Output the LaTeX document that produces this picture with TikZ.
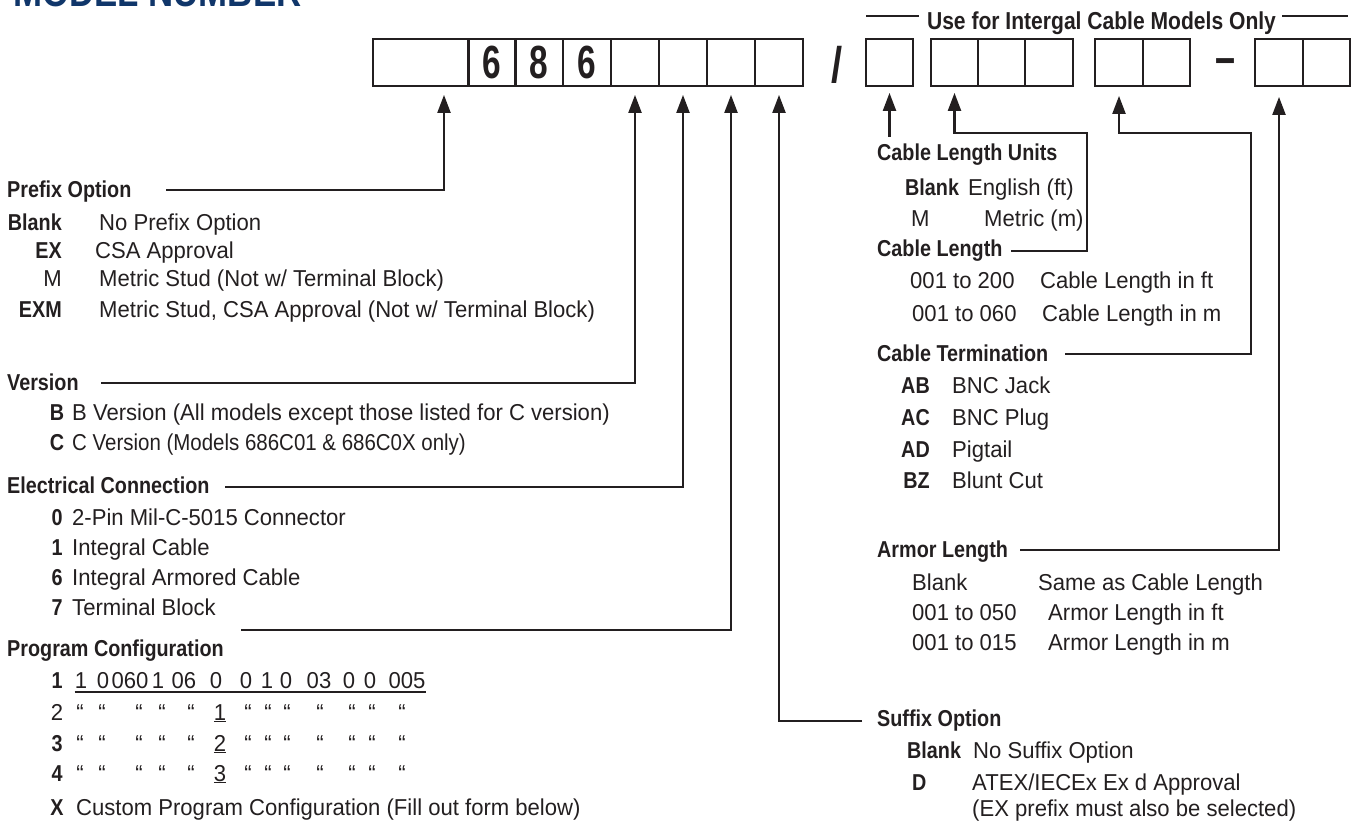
\documentclass[tikz,border=0pt]{standalone}
\usepackage{fontspec}
\setmainfont{Liberation Sans}
\newfontfamily\regf{Liberation Sans}[FakeStretch=0.96]
\newfontfamily\regn{Liberation Sans}[FakeStretch=0.89]
\newfontfamily\bldf{Liberation Sans Bold}[FakeStretch=0.86]
\newfontfamily\digf{Liberation Sans Bold}[FakeStretch=0.72]
\newfontfamily\slaf{Liberation Sans Bold}[FakeStretch=0.8]
\usetikzlibrary{arrows.meta,calc}
\definecolor{ink}{HTML}{231F20}
\definecolor{navy}{HTML}{10366A}
\tikzset{
  txt/.style={anchor=base west,inner sep=0pt,text=ink,font=\regf\fontsize{23}{27}\selectfont},
  txtb/.style={txt,font=\bldf\fontsize{23}{27}\selectfont},
  txtbr/.style={txtb,anchor=base east},
  txtr/.style={txt,anchor=base east},
  txtbc/.style={txtb,anchor=base},
  txtc/.style={txt,anchor=base},
  cell/.style={draw=ink,line width=1.8pt,minimum width=47.5pt,minimum height=47pt,inner sep=0pt,text=ink,font=\digf\fontsize{46.5}{50}\selectfont},
  conn/.style={draw=ink,line width=2.2pt,-{Triangle[length=18pt,width=13pt]}},
  rulel/.style={draw=ink,line width=1.5pt},
  ul/.style={draw=ink,line width=1.2pt},
}
\begin{document}
\begin{tikzpicture}[x=1pt,y=-1pt]
\useasboundingbox (0,0) rectangle (1357,823);
% title
\node[anchor=base west,inner sep=0pt,text=navy,font=\bldf\fontsize{40.5}{43}\selectfont] (title) at (13,6) {MODEL NUMBER};
% cells
\node[cell,minimum width=96pt] (b0) at (421,62.5) {};
\node[cell] (b1) at (492,62.5) {6};
\node[cell] (b2) at (539,62.5) {8};
\node[cell] (b3) at (587,62.5) {6};
\node[cell] (b4) at (635,62.5) {};
\node[cell] (b5) at (683,62.5) {};
\node[cell] (b6) at (731,62.5) {};
\node[cell] (b7) at (779,62.5) {};
\node[inner sep=0pt,text=ink,font=\slaf\fontsize{50}{53}\selectfont] (slash) at (837,65) {/};
\node[cell] (c0) at (889.5,62.5) {};
\node[cell] (d1) at (954.5,62.5) {};
\node[cell] (d2) at (1001.5,62.5) {};
\node[cell] (d3) at (1049,62.5) {};
\node[cell] (e1) at (1119,62.5) {};
\node[cell] (e2) at (1166.5,62.5) {};
\node[inner sep=0pt,text=ink,font=\digf\fontsize{50}{53}\selectfont] (dash) at (1225,67) {–};
\node[cell] (f1) at (1279,62.5) {};
\node[cell] (f2) at (1326.5,62.5) {};
% top heading
\node[txtbc,font=\bldf\fontsize{24.5}{28}\selectfont] (use) at (1101.5,29) {Use for Intergal Cable Models Only};
\draw[rulel] (866,16) -- (919,16);
\draw[rulel] (1282,16) -- (1348,16);
% ---- left column
\node[txtb] (hpre) at (7,197) {Prefix Option};
\node[txtbr] (kpre1) at (62,230) {Blank};
\node[txt] (dpre1) at (99,230) {No Prefix Option};
\node[txtbr] (kpre2) at (62,258) {EX};
\node[txt] (dpre2) at (95,258) {CSA Approval};
\node[txtr] (kpre3) at (62,286) {M};
\node[txt] (dpre3) at (99,286) {Metric Stud (Not w/ Terminal Block)};
\node[txtbr] (kpre4) at (62,317) {EXM};
\node[txt] (dpre4) at (99,317) {Metric Stud, CSA Approval (Not w/ Terminal Block)};

\node[txtb] (hver) at (7,390) {Version};
\node[txtbc] (kver1) at (57,420) {B};
\node[txt] (dver1) at (72,420) {B Version (All models except those listed for C version)};
\node[txtbc] (kver2) at (57,450) {C};
\node[txt,font=\regn\fontsize{23}{27}\selectfont] (dver2) at (72,450) {C Version (Models 686C01 \& 686C0X only)};

\node[txtb] (hele) at (7,493) {Electrical Connection};
\node[txtbc] (kele1) at (57,525) {0};
\node[txt] (dele1) at (72,525) {2-Pin Mil-C-5015 Connector};
\node[txtbc] (kele2) at (57,555) {1};
\node[txt] (dele2) at (72,555) {Integral Cable};
\node[txtbc] (kele3) at (57,585) {6};
\node[txt] (dele3) at (72,585) {Integral Armored Cable};
\node[txtbc] (kele4) at (57,615) {7};
\node[txt] (dele4) at (72,615) {Terminal Block};

\node[txtb] (hpc) at (7,656) {Program Configuration};
\node[txtbc] (kpc1) at (57,688) {1};
\node[txtc] (r1a) at (81,688) {1};
\node[txtc] (r1b) at (103,688) {0};
\node[txtc] (r1c) at (130,688) {060};
\node[txtc] (r1d) at (158,688) {1};
\node[txtc] (r1e) at (184,688) {06};
\node[txtc] (r1f) at (216,688) {0};
\node[txtc] (r1g) at (246,688) {0};
\node[txtc] (r1h) at (267,688) {1};
\node[txtc] (r1i) at (286,688) {0};
\node[txtc] (r1j) at (319,688) {03};
\node[txtc] (r1k) at (349,688) {0};
\node[txtc] (r1l) at (370,688) {0};
\node[txtc] (r1m) at (407,688) {005};
\draw[ul] ([yshift=-4pt]r1a.base west) -- ([yshift=-4pt]r1m.base east);
\foreach \r/\y/\d/\k in {2/720/1/txtc,3/751/2/txtbc,4/781/3/txtbc}{
  \node[\k] (kpc\r) at (57,\y) {\r};
  \foreach \xx [count=\i] in {80,102,139,162,191,248,268,287,320,352,372,402}{
    \node[txtc] (q\r-\i) at (\xx,\y) {“};
  }
  \node[txtc] (u\r) at (220,\y) {\underline{\d}};
}
\node[txtbc] (kpcx) at (57,815) {X};
\node[txt] (dpcx) at (76,815) {Custom Program Configuration (Fill out form below)};

% ---- right column
\node[txtb] (hclu) at (877,160) {Cable Length Units};
\node[txtb] (kclu1) at (905,195) {Blank};
\node[txt] (dclu1) at (968,195) {English (ft)};
\node[txt] (kclu2) at (911,226) {M};
\node[txt] (dclu2) at (984,226) {Metric (m)};

\node[txtb] (hcl) at (877,256) {Cable Length};
\node[txt] (kcl1) at (910,288) {001 to 200};
\node[txt] (dcl1) at (1040,288) {Cable Length in ft};
\node[txt] (kcl2) at (912,321) {001 to 060};
\node[txt] (dcl2) at (1042,321) {Cable Length in m};

\node[txtb] (hct) at (877,361) {Cable Termination};
\node[txtbr] (kct1) at (930,393) {AB};
\node[txt] (dct1) at (952,393) {BNC Jack};
\node[txtbr] (kct2) at (930,425) {AC};
\node[txt] (dct2) at (952,425) {BNC Plug};
\node[txtbr] (kct3) at (930,457) {AD};
\node[txt] (dct3) at (952,457) {Pigtail};
\node[txtbr] (kct4) at (930,488) {BZ};
\node[txt] (dct4) at (952,488) {Blunt Cut};

\node[txtb] (harm) at (877,557) {Armor Length};
\node[txt] (karm1) at (912,590) {Blank};
\node[txt] (darm1) at (1038,590) {Same as Cable Length};
\node[txt] (karm2) at (912,620) {001 to 050};
\node[txt] (darm2) at (1048,620) {Armor Length in ft};
\node[txt] (karm3) at (912,650) {001 to 015};
\node[txt] (darm3) at (1048,650) {Armor Length in m};

\node[txtb] (hsuf) at (877,726) {Suffix Option};
\node[txtb] (ksuf1) at (907,758) {Blank};
\node[txt] (dsuf1) at (973,758) {No Suffix Option};
\node[txtb] (ksuf2) at (912,790) {D};
\node[txt] (dsuf2) at (972,790) {ATEX/IECEx Ex d Approval};
\node[txt] (dsuf3) at (972,816) {(EX prefix must also be selected)};

% ---- connectors
\coordinate (pe) at (166,190);
\draw[conn] (pe) -| ([xshift=23pt,yshift=-8pt]b0.south);
\coordinate (ve) at (101,383);
\draw[conn] (ve) -| ([yshift=-8pt]b4.south);
\coordinate (ee) at (225,487);
\draw[conn] (ee) -| ([yshift=-8pt]b5.south);
\coordinate (pce) at (241,630);
\draw[conn] (pce) -| ([yshift=-8pt]b6.south);
\coordinate (se) at (862,721);
\draw[conn] (se) -| ([yshift=-8pt]b7.south);
\draw[conn] ([yshift=-50pt]c0.south) -- ([yshift=-6pt]c0.south);
\coordinate (cle) at (1011,251);
\coordinate (clc) at (1087,133);
\draw[conn] (cle) -| (clc) -| ([yshift=-6pt]d1.south);
\coordinate (cte) at (1065,354);
\coordinate (ctc) at (1251,133);
\draw[conn] (cte) -| (ctc) -| ([yshift=-9pt]e1.south);
\coordinate (ae) at (1020,550);
\draw[conn] (ae) -| ([yshift=-10pt]f1.south);
\end{tikzpicture}
\end{document}
